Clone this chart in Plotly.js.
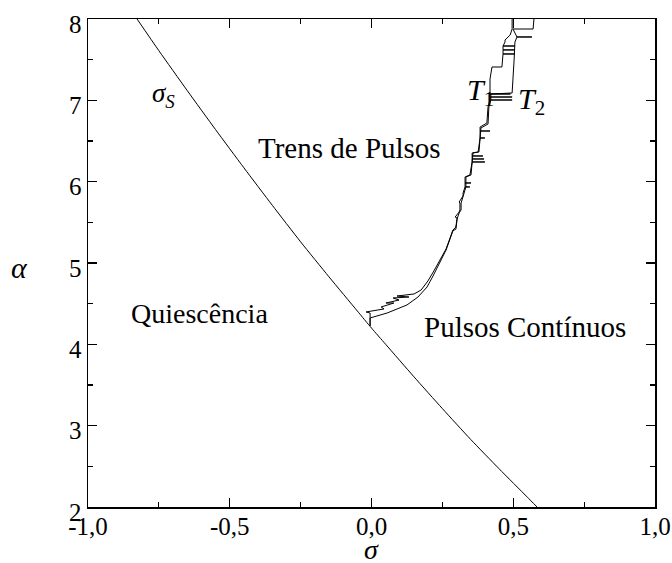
<!DOCTYPE html>
<html>
<head>
<meta charset="utf-8">
<script src="https://cdn.plot.ly/plotly-3.0.1.min.js"></script>
<style>
  html, body { margin: 0; padding: 0; background: #fff; }
  #chart { width: 672px; height: 563px; }
</style>
</head>
<body>
<div id="chart"></div>
<script>
// Boundary of the quiescent region, sigma_S(alpha)
const sigmaS_x = [-0.827, -0.75, -0.65, -0.55, -0.45, -0.35, -0.25, -0.15, -0.05, 0.0, 0.05, 0.15, 0.25, 0.35, 0.45, 0.55, 0.584];
const sigmaS_y = [8.00, 7.61, 7.12, 6.64, 6.17, 5.71, 5.26, 4.83, 4.41, 4.20, 4.00, 3.60, 3.21, 2.83, 2.47, 2.12, 2.00];

// Boundary T1 (pulse trains / continuous pulses), left branch
const t1_x = [-0.005, -0.005, -0.019, 0.044, 0.034, 0.079, 0.051, 0.097, 0.076, 0.132, 0.090, 0.150, 0.175,
  0.199, 0.220, 0.242, 0.263, 0.277, 0.287, 0.295, 0.298, 0.302, 0.295, 0.309, 0.312, 0.312, 0.309, 0.323, 0.323,
  0.330, 0.347, 0.330, 0.330, 0.351, 0.330, 0.330, 0.347,
  0.355, 0.400, 0.355, 0.355, 0.397, 0.355, 0.355, 0.393, 0.355, 0.355, 0.376,
  0.383, 0.400, 0.383, 0.383, 0.418, 0.383, 0.383, 0.407, 0.411,
  0.418, 0.496, 0.418, 0.418, 0.496, 0.418, 0.418, 0.490, 0.418, 0.418, 0.425, 0.460, 0.464,
  0.464, 0.506, 0.464, 0.464, 0.506, 0.464, 0.464, 0.506, 0.464, 0.471, 0.471, 0.489, 0.496, 0.496];
const t1_y = [4.226, 4.385, 4.398, 4.435, 4.459, 4.508, 4.508, 4.545, 4.570, 4.582, 4.594, 4.619, 4.668,
  4.779, 4.902, 5.037, 5.172, 5.307, 5.405, 5.430, 5.455, 5.553, 5.565, 5.627, 5.652, 5.737, 5.750, 5.824, 5.861,
  5.935, 5.935, 5.935, 5.984, 5.984, 5.984, 6.058, 6.082,
  6.242, 6.242, 6.242, 6.279, 6.279, 6.279, 6.316, 6.316, 6.316, 6.353, 6.365,
  6.537, 6.537, 6.537, 6.623, 6.623, 6.623, 6.672, 6.721, 6.918,
  7.004, 7.004, 7.004, 7.041, 7.041, 7.041, 7.078, 7.078, 7.078, 7.263, 7.410, 7.410, 7.508,
  7.570, 7.570, 7.570, 7.620, 7.620, 7.620, 7.668, 7.668, 7.668, 7.717, 7.742, 7.803, 7.877, 8.000];

// Boundary T2, right branch
const t2_x = [-0.005, -0.005, 0.055, 0.125, 0.164, 0.196, 0.217, 0.242, 0.263, 0.277, 0.287, 0.298, 0.302,
  0.309, 0.316, 0.316, 0.323, 0.326, 0.333, 0.333, 0.351, 0.358, 0.379, 0.386, 0.411, 0.414, 0.421, 0.421,
  0.496, 0.503, 0.506, 0.513, 0.566, 0.513, 0.499, 0.570, 0.573];
const t2_y = [4.226, 4.324, 4.385, 4.484, 4.582, 4.705, 4.840, 5.025, 5.160, 5.295, 5.394, 5.418, 5.541,
  5.615, 5.652, 5.737, 5.812, 5.861, 5.935, 6.058, 6.082, 6.353, 6.365, 6.660, 6.709, 6.918, 7.004, 7.078,
  7.090, 7.496, 7.717, 7.779, 7.779, 7.779, 7.877, 7.877, 8.000];

const xTickVals = [-1.0, -0.5, 0.0, 0.5, 1.0];
const xTickLabels = ['-1,0', '-0,5', '0,0', '0,5', '1,0'];
const yTickVals = [2, 3, 4, 5, 6, 7, 8];
const yTickLabels = ['2', '3', '4', '5', '6', '7', '8'];

const serif = "'Liberation Serif', 'Times New Roman', 'DejaVu Serif', serif";
const lineStyle = { color: '#000', width: 1 };

const traces = [
  { x: sigmaS_x, y: sigmaS_y, mode: 'lines', line: Object.assign({ shape: 'spline', smoothing: 0.6 }, lineStyle), hoverinfo: 'skip' },
  { x: t1_x, y: t1_y, mode: 'lines', line: lineStyle, hoverinfo: 'skip' },
  { x: t2_x, y: t2_y, mode: 'lines', line: lineStyle, hoverinfo: 'skip' }
];

const axisCommon = {
  showgrid: false, zeroline: false, showline: true, linecolor: '#000', linewidth: 1.5,
  mirror: 'ticks', ticks: 'inside', ticklen: 9, tickwidth: 1.2, tickcolor: '#000',
  tickfont: { family: serif, size: 25, color: '#000' }
};

const layout = {
  width: 672, height: 563,
  margin: { l: 88, r: 17, t: 19, b: 56 },
  paper_bgcolor: '#fff', plot_bgcolor: '#fff',
  font: { family: serif, color: '#000' },
  showlegend: false,
  xaxis: Object.assign({}, axisCommon, {
    range: [-1, 1], tickmode: 'array', tickvals: xTickVals, ticktext: xTickLabels, ticklabelstandoff: -4,
    minor: { dtick: 0.25, ticks: 'inside', ticklen: 5, tickwidth: 1.2, tickcolor: '#000' }
  }),
  yaxis: Object.assign({}, axisCommon, {
    range: [2, 8], tickmode: 'array', tickvals: yTickVals, ticktext: yTickLabels, ticklabelshift: 5,
    minor: { dtick: 0.5, ticks: 'inside', ticklen: 5, tickwidth: 1.2, tickcolor: '#000' }
  }),
  annotations: [
    { xref: 'paper', yref: 'paper', x: 0.5, y: -0.087, yanchor: 'middle', height: 24, valign: 'middle', showarrow: false,
      text: '<i>σ</i>', font: { family: serif, size: 28, color: '#000' } },
    { xref: 'paper', yref: 'paper', x: -0.12, y: 0.49, xanchor: 'center', showarrow: false,
      text: '<i>α</i>', font: { family: serif, size: 30, color: '#000' } },
    { x: -0.076, y: 6.41, showarrow: false, text: 'Trens de Pulsos',
      font: { family: serif, size: 29, color: '#000' } },
    { x: -0.605, y: 4.385, showarrow: false, text: 'Quiescência',
      font: { family: serif, size: 28, color: '#000' } },
    { x: 0.541, y: 4.21, showarrow: false, text: 'Pulsos Contínuos',
      font: { family: serif, size: 29, color: '#000' } },
    { x: -0.733, y: 7.07, showarrow: false, text: '<i>σ</i><sub><i>S</i></sub>',
      font: { family: serif, size: 27, color: '#000' } },
    { x: 0.385, y: 7.1, showarrow: false, text: '<i>T</i><sub>1</sub>',
      font: { family: serif, size: 30, color: '#000' } },
    { x: 0.565, y: 6.99, showarrow: false, text: '<i>T</i><sub>2</sub>',
      font: { family: serif, size: 30, color: '#000' } }
  ]
};

Plotly.newPlot('chart', traces, layout, { displayModeBar: false, staticPlot: true });
</script>
</body>
</html>
